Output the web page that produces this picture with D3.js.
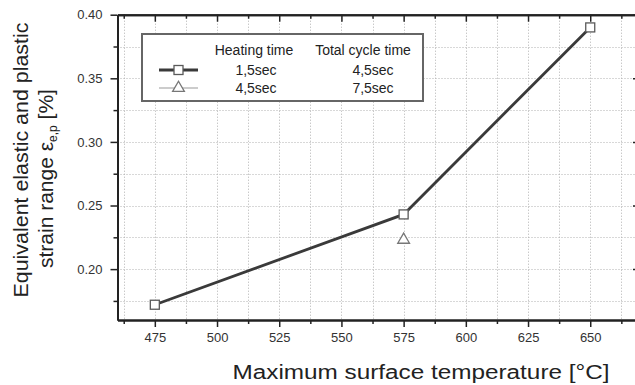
<!DOCTYPE html>
<html>
<head>
<meta charset="utf-8">
<script src="https://cdn.jsdelivr.net/npm/d3@7"></script>
<style>
  body { margin: 0; background: #fff; }
  svg { display: block; font-family: "Liberation Sans", Arial, sans-serif; }
</style>
</head>
<body>
<div id="chart"></div>
<script>
// Series 1: heating time 1,5sec, total cycle 4,5sec
const tempShort = [475, 575, 650];
const strainShort = [0.172, 0.243, 0.390];
// Series 2: heating time 4,5sec, total cycle 7,5sec
const tempLong = [575];
const strainLong = [0.223];

const xTicks = [475, 500, 525, 550, 575, 600, 625, 650];
const xMinor = [462.5, 487.5, 512.5, 537.5, 562.5, 587.5, 612.5, 637.5, 662.5];
const yTicks = [0.20, 0.25, 0.30, 0.35, 0.40];
const yMinor = [0.175, 0.225, 0.275, 0.325, 0.375];

const legendHeaders = ['Heating time', 'Total cycle time'];
const heatingTimes = ['1,5sec', '4,5sec'];
const cycleTimes = ['4,5sec', '7,5sec'];

const W = 635, H = 385;
const plot = { left: 117.5, right: 640, top: 14.7, bottom: 320 };

const x = d3.scaleLinear().domain([460, 670]).range([plot.left, plot.right]);
const y = d3.scaleLinear().domain([0.16, 0.40]).range([plot.bottom, plot.top]);

const svg = d3.select('#chart').append('svg')
  .attr('width', W)
  .attr('height', H);

// grid
const grid = svg.append('g').attr('stroke', '#b0b0b0').attr('stroke-width', 1).attr('stroke-dasharray', '1,2');
grid.selectAll('.gx')
  .data(xTicks.concat(xMinor))
  .enter().append('line')
  .attr('x1', d => Math.round(x(d)) + 0.5).attr('x2', d => Math.round(x(d)) + 0.5)
  .attr('y1', plot.top).attr('y2', plot.bottom);
grid.selectAll('.gy')
  .data(yTicks.slice(0, -1).concat(yMinor))
  .enter().append('line')
  .attr('x1', plot.left).attr('x2', plot.right)
  .attr('y1', d => Math.round(y(d)) + 0.5).attr('y2', d => Math.round(y(d)) + 0.5);

// axes
function styleAxis(g) {
  g.selectAll('.domain').attr('stroke', '#222').attr('stroke-width', 2);
  g.selectAll('.tick line').attr('stroke', '#222').attr('stroke-width', 1.5);
  g.selectAll('.tick text').attr('fill', '#333').attr('font-size', 13)
    .attr('font-family', '"Liberation Sans", Arial, sans-serif');
}

const axBottom = svg.append('g').attr('transform', `translate(0,${plot.bottom})`);
axBottom.append('g').call(d3.axisBottom(x).tickValues(xMinor).tickSize(4).tickFormat('').tickSizeOuter(0)).call(styleAxis);
axBottom.append('g').call(d3.axisBottom(x).tickValues(xTicks).tickSize(7).tickPadding(6).tickSizeOuter(0)).call(styleAxis);

const axTop = svg.append('g').attr('transform', `translate(0,${plot.top})`);
axTop.append('g').call(d3.axisTop(x).tickValues(xMinor).tickSize(-4).tickFormat('').tickSizeOuter(0)).call(styleAxis);
axTop.append('g').call(d3.axisTop(x).tickValues(xTicks).tickSize(-7).tickFormat('').tickSizeOuter(0)).call(styleAxis);

const axLeft = svg.append('g').attr('transform', `translate(${plot.left},0)`);
axLeft.append('g').call(d3.axisLeft(y).tickValues(yMinor).tickSize(4).tickFormat('').tickSizeOuter(0)).call(styleAxis);
axLeft.append('g').call(d3.axisLeft(y).tickValues(yTicks).tickSize(7).tickPadding(8).tickFormat(d3.format('.2f')).tickSizeOuter(0)).call(styleAxis);

const axRight = svg.append('g').attr('transform', `translate(${plot.right},0)`);
axRight.append('g').call(d3.axisRight(y).tickValues(yMinor).tickSize(-4).tickFormat('').tickSizeOuter(0)).call(styleAxis);
axRight.append('g').call(d3.axisRight(y).tickValues(yTicks).tickSize(-7).tickFormat('').tickSizeOuter(0)).call(styleAxis);

// data series 1
const pts = tempShort.map((t, i) => [t, strainShort[i]]);
svg.append('path')
  .datum(pts)
  .attr('fill', 'none')
  .attr('stroke', '#3a3a3a')
  .attr('stroke-width', 2.8)
  .attr('d', d3.line().x(d => x(d[0])).y(d => y(d[1])));

const sq = 9;
svg.selectAll('.sq')
  .data(pts)
  .enter().append('rect')
  .attr('x', d => x(d[0]) - sq / 2)
  .attr('y', d => y(d[1]) - sq / 2)
  .attr('width', sq).attr('height', sq)
  .attr('fill', '#fff').attr('stroke', '#5a5a5a').attr('stroke-width', 1.3);

// data series 2
const tri = d3.symbol().type(d3.symbolTriangle).size(60);
svg.selectAll('.tri')
  .data(tempLong.map((t, i) => [t, strainLong[i]]))
  .enter().append('path')
  .attr('transform', d => `translate(${x(d[0])},${y(d[1])})`)
  .attr('d', tri)
  .attr('fill', '#fff').attr('stroke', '#777').attr('stroke-width', 1.3);

// legend
const lg = svg.append('g');
lg.append('rect')
  .attr('x', 142).attr('y', 34).attr('width', 281).attr('height', 67)
  .attr('fill', '#fff').attr('stroke', '#666').attr('stroke-width', 2);

lg.selectAll('.hdr')
  .data(legendHeaders)
  .enter().append('text')
  .attr('x', (d, i) => [254, 363][i]).attr('y', 55)
  .attr('text-anchor', 'middle').attr('font-size', 14).attr('fill', '#222')
  .text(d => d);

const rowY = [70, 88];
lg.selectAll('.ht')
  .data(heatingTimes)
  .enter().append('text')
  .attr('x', 256).attr('y', (d, i) => rowY[i] + 5)
  .attr('text-anchor', 'middle').attr('font-size', 14).attr('fill', '#222')
  .text(d => d);
lg.selectAll('.ct')
  .data(cycleTimes)
  .enter().append('text')
  .attr('x', 373).attr('y', (d, i) => rowY[i] + 5)
  .attr('text-anchor', 'middle').attr('font-size', 14).attr('fill', '#222')
  .text(d => d);

lg.append('line').attr('x1', 159).attr('x2', 198).attr('y1', rowY[0]).attr('y2', rowY[0])
  .attr('stroke', '#3a3a3a').attr('stroke-width', 2.8);
lg.append('rect').attr('x', 178.5 - sq / 2).attr('y', rowY[0] - sq / 2).attr('width', sq).attr('height', sq)
  .attr('fill', '#fff').attr('stroke', '#5a5a5a').attr('stroke-width', 1.3);
lg.append('line').attr('x1', 159).attr('x2', 198).attr('y1', rowY[1]).attr('y2', rowY[1])
  .attr('stroke', '#999').attr('stroke-width', 1);
lg.append('path').attr('transform', `translate(178.5,${rowY[1]})`).attr('d', tri)
  .attr('fill', '#fff').attr('stroke', '#777').attr('stroke-width', 1.3);

// axis titles
svg.append('text')
  .attr('x', 421).attr('y', 379)
  .attr('text-anchor', 'middle').attr('font-size', 20).attr('fill', '#222')
  .attr('textLength', 377).attr('lengthAdjust', 'spacingAndGlyphs')
  .text('Maximum surface temperature [°C]');

const yt = svg.append('g').attr('transform', 'translate(0,160) rotate(-90)');
yt.append('text')
  .attr('x', 0).attr('y', 28)
  .attr('text-anchor', 'middle').attr('font-size', 21).attr('fill', '#222')
  .attr('textLength', 275).attr('lengthAdjust', 'spacingAndGlyphs')
  .text('Equivalent elastic and plastic');
const l2 = yt.append('text')
  .attr('x', -108).attr('y', 53)
  .attr('text-anchor', 'start').attr('font-size', 21).attr('fill', '#222');
l2.append('tspan').text('strain range ε');
l2.append('tspan').attr('font-size', 12).attr('dy', 4).text('e,p');
l2.append('tspan').attr('dy', -4).text(' [%]');
</script>
</body>
</html>
